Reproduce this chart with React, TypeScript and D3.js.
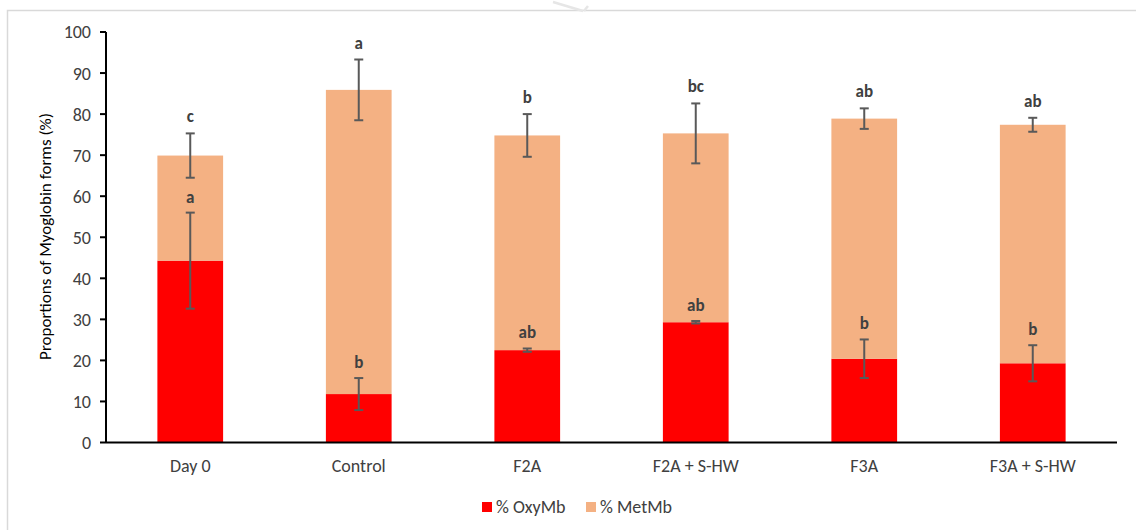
import React from "react";
import * as d3 from "d3";

// Treatment groups
const categories = ["Day 0", "Control", "F2A", "F2A + S-HW", "F3A", "F3A + S-HW"];

// Mean proportions (%) of each myoglobin form
const oxyMb = [44.3, 11.8, 22.5, 29.3, 20.4, 19.3];
const metMb = [25.6, 74.1, 52.3, 46.0, 58.5, 58.1];

// Standard deviations
const oxySd = [11.7, 3.9, 0.4, 0.3, 4.7, 4.4];
const totalSd = [5.4, 7.4, 5.2, 7.3, 2.5, 1.7];

// Significance letters
const oxyLetters = ["a", "b", "ab", "ab", "b", "b"];
const totalLetters = ["c", "a", "b", "bc", "ab", "ab"];

const yTicks = [0, 10, 20, 30, 40, 50, 60, 70, 80, 90, 100];

const seriesNames = ["% OxyMb", "% MetMb"];
const seriesColors = ["#ff0000", "#f4b183"];

const W = 1136;
const H = 530;
const FONT = "Carlito, Lato, 'Open Sans', sans-serif";
const TEXT = "#404040";
const ERR = "#595959";

export default function App() {
  const x = d3
    .scaleBand<string>()
    .domain(categories)
    .range([106, 1117])
    .paddingInner(0.61)
    .paddingOuter(0.305);
  const y = d3.scaleLinear().domain([0, 100]).range([442.5, 32]);

  const rows = categories.map((c, i) => ({ cat: c, oxy: oxyMb[i], met: metMb[i] }));
  const stack = d3.stack<any>().keys(["oxy", "met"])(rows);

  const capHalf = 4.5;
  const errBar = (cx: number, v: number, sd: number, key: string) => (
    <g key={key} stroke={ERR} strokeWidth={2}>
      <line x1={cx} x2={cx} y1={y(v - sd)} y2={y(v + sd)} />
      <line x1={cx - capHalf} x2={cx + capHalf} y1={y(v + sd)} y2={y(v + sd)} />
      <line x1={cx - capHalf} x2={cx + capHalf} y1={y(v - sd)} y2={y(v - sd)} />
    </g>
  );

  return (
    <svg width={W} height={H} style={{ position: "absolute", left: 0, top: 0 }} fontFamily={FONT}>
      <rect x={0} y={0} width={W} height={H} fill="#fff" />
      {/* chart frame */}
      <rect x={7.5} y={10.5} width={W} height={H} fill="none" stroke="#d9d9d9" strokeWidth={1.5} />
      <path d="M553,2 L583,11 M584,11 L588,6" stroke="#e6e6e6" strokeWidth={2.5} fill="none" />

      {/* stacked bars */}
      {stack.map((layer, li) => (
        <g key={li} fill={seriesColors[li]}>
          {layer.map((d: any, i: number) => (
            <rect
              key={i}
              x={x(categories[i])}
              width={x.bandwidth()}
              y={y(d[1])}
              height={y(d[0]) - y(d[1])}
            />
          ))}
        </g>
      ))}

      {/* axes */}
      <line x1={106} x2={1117} y1={y(0)} y2={y(0)} stroke="#000" strokeWidth={2} />
      <line x1={106} x2={106} y1={y(0)} y2={y(100)} stroke="#000" strokeWidth={2} />
      {yTicks.map((t) => (
        <g key={t}>
          <line x1={100} x2={106} y1={y(t)} y2={y(t)} stroke="#000" strokeWidth={2} />
          <text x={91} y={y(t)} dy="0.36em" textAnchor="end" fontSize={18} fill={TEXT}>
            {t}
          </text>
        </g>
      ))}
      {categories.map((c) => (
        <text
          key={c}
          x={(x(c) as number) + x.bandwidth() / 2}
          y={472}
          textAnchor="middle"
          fontSize={18}
          fill={TEXT}
        >
          {c}
        </text>
      ))}
      <text
        transform={`translate(51,236.5) rotate(-90)`}
        textAnchor="middle"
        fontSize={17}
        fill="#000"
      >
        Proportions of Myoglobin forms (%)
      </text>

      {/* error bars and letters */}
      {categories.map((c, i) => {
        const cx = (x(c) as number) + x.bandwidth() / 2;
        const total = oxyMb[i] + metMb[i];
        return (
          <g key={c}>
            {errBar(cx, oxyMb[i], oxySd[i], "o")}
            {errBar(cx, total, totalSd[i], "t")}
            <text
              x={cx}
              y={y(oxyMb[i] + oxySd[i]) - 10}
              textAnchor="middle"
              fontSize={17}
              fontWeight="bold"
              fill={TEXT}
            >
              {oxyLetters[i]}
            </text>
            <text
              x={cx}
              y={y(total + totalSd[i]) - 11}
              textAnchor="middle"
              fontSize={17}
              fontWeight="bold"
              fill={TEXT}
            >
              {totalLetters[i]}
            </text>
          </g>
        );
      })}

      {/* legend */}
      {seriesNames.map((n, i) => {
        const lx = [482, 586][i];
        return (
          <g key={n}>
            <rect x={lx} y={502} width={10} height={10} fill={seriesColors[i]} />
            <text x={lx + 14} y={513} fontSize={18} fill={TEXT}>
              {n}
            </text>
          </g>
        );
      })}
    </svg>
  );
}
